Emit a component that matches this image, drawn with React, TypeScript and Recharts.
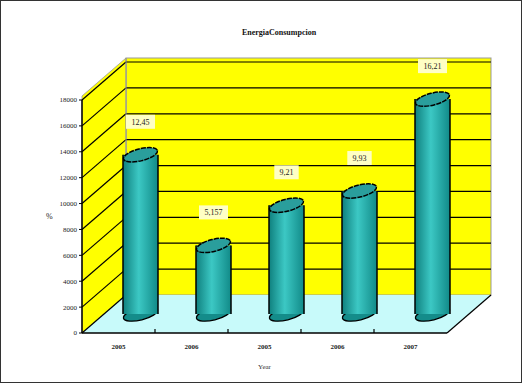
import React from 'react';
import { BarChart, Bar, XAxis, YAxis, ReferenceArea, LabelList, Customized } from 'recharts';

const categories = ['2005', '2006', '2005', '2006', '2007'];
const values = [12300, 5300, 8400, 9500, 16600];
const valueLabels = ['12,45', '5,157', '9,21', '9,93', '16,21'];
const yTicks = [0, 2000, 4000, 6000, 8000, 10000, 12000, 14000, 16000, 18000];
const title = 'EnergiaConsumpcion';

const data = categories.map((c, i) => ({ name: c, value: values[i], label: valueLabels[i] }));

const DX = 44;
const DY = -38;
const OX = DX / 2;
const OY = DY / 2;
const FONT = '"Liberation Serif", "DejaVu Serif", serif';

const Walls = (props: any) => {
  const { x, y, width, height } = props;
  const bottom = y + height;
  const right = x + width;
  const maxV = yTicks[yTicks.length - 1];
  const yOf = (v: number) => y + height * (1 - v / maxV);
  const n = categories.length;
  return (
    <g>
      {/* back wall */}
      <rect x={x + DX} y={y + DY - 4} width={width} height={height + 4} fill="#ffff00" stroke="#999" strokeWidth={1} />
      {/* side wall */}
      <polygon
        points={`${x},${bottom} ${x},${y - 4} ${x + DX},${y + DY - 4} ${x + DX},${bottom + DY}`}
        fill="#ffff00"
        stroke="#999"
        strokeWidth={0.8}
      />
      {/* floor */}
      <polygon
        points={`${x},${bottom} ${right},${bottom} ${right + DX},${bottom + DY} ${x + DX},${bottom + DY}`}
        fill="#c8fafa"
      />
      {yTicks.slice(1).map((t) => {
        const yy = yOf(t);
        return (
          <g key={t}>
            <line x1={x} y1={yy} x2={x + DX} y2={yy + DY} stroke="#000" strokeWidth={1.2} />
            <line x1={x + DX} y1={yy + DY} x2={right + DX} y2={yy + DY} stroke="#000" strokeWidth={1.2} />
          </g>
        );
      })}
      <line x1={x} y1={bottom} x2={x + DX} y2={bottom + DY} stroke="#000" strokeWidth={1.2} />
      <line x1={right} y1={bottom} x2={right + DX} y2={bottom + DY} stroke="#000" strokeWidth={1.2} />
      <line x1={x + DX} y1={y + DY - 4} x2={x + DX} y2={bottom + DY} stroke="#999" strokeWidth={1} />
      {Array.from({ length: n - 1 }).map((_, i) => {
        const xx = x + (width * (i + 1)) / n;
        return <line key={i} x1={xx} y1={bottom} x2={xx} y2={bottom - 4} stroke="#000" strokeWidth={1.2} />;
      })}
    </g>
  );
};

const Cylinder = (props: any) => {
  const { x, y, width, height } = props;
  if (height == null || width == null) return null;
  const bx = x + OX;
  const top = y + OY;
  const bot = y + height + OY;
  const cx = bx + width / 2;
  const rx = width / 2;
  const ry = 6;
  const rot = -14;
  return (
    <g>
      <ellipse cx={cx} cy={bot} rx={rx} ry={ry} transform={`rotate(${rot} ${cx} ${bot})`} fill="#148c8a" stroke="#000" strokeWidth={1.3} />
      <rect x={bx} y={top} width={width} height={bot - top} fill="url(#cylGrad)" stroke="none" />
      <line x1={bx} y1={top} x2={bx} y2={bot} stroke="#000" strokeWidth={1.5} />
      <line x1={bx + width} y1={top} x2={bx + width} y2={bot} stroke="#000" strokeWidth={1.5} />
      <ellipse cx={cx} cy={top} rx={rx} ry={ry} transform={`rotate(${rot} ${cx} ${top})`} fill="#2a9e9c" stroke="#000" strokeWidth={1.5} strokeDasharray="5 1" />
    </g>
  );
};

const ValueLabel = (props: any) => {
  const { x, y, width, index } = props;
  const cx = x + width / 2 + OX;
  const cy = y + OY - 33;
  const text = valueLabels[index];
  const w = text.length * 4.6 + 6;
  return (
    <g>
      <rect x={cx - w / 2} y={cy - 7} width={w} height={14} fill="#ffffc4" />
      <text x={cx} y={cy + 3} textAnchor="middle" fontFamily={FONT} fontSize={8} fill="#222">
        {text}
      </text>
    </g>
  );
};

const XTick = (props: any) => {
  const { x, y, payload } = props;
  return (
    <text x={x} y={y + 8} textAnchor="middle" fontFamily={FONT} fontSize={7} fontWeight="bold" fill="#222">
      {payload.value}
    </text>
  );
};

const Extras = () => (
  <g>
    <rect x={0.5} y={0.5} width={521} height={382} fill="none" stroke="#333" strokeWidth={1} />
    <text x={279} y={35} textAnchor="middle" fontFamily={FONT} fontSize={8} fontWeight="bold" fill="#111">
      {title}
    </text>
  </g>
);

export default function App() {
  return (
    <div style={{ position: 'absolute', left: 0, top: 0, background: '#fff' }}>
      <BarChart width={522} height={383} data={data} margin={{ top: 100, right: 75, bottom: 10, left: 42 }} barSize={35}>
        <defs>
          <linearGradient id="cylGrad" x1="0" y1="0" x2="1" y2="0">
            <stop offset="0" stopColor="#0f807e" />
            <stop offset="0.45" stopColor="#3cc8c4" />
            <stop offset="1" stopColor="#118a88" />
          </linearGradient>
        </defs>
        <Customized component={Extras} />
        <ReferenceArea y1={0} y2={18000} shape={<Walls />} ifOverflow="visible" zIndex={-50} />
        <XAxis
          dataKey="name"
          allowDuplicatedCategory={true}
          height={40}
          tick={<XTick />}
          tickLine={false}
          axisLine={{ stroke: '#000', strokeWidth: 1.5 }}
          label={{ value: 'Year', position: 'insideBottom', offset: 4, fontFamily: FONT, fontSize: 7, fill: '#333' }}
        />
        <YAxis
          width={40}
          domain={[0, 18000]}
          ticks={yTicks}
          interval={0}
          tickSize={3}
          tick={{ fontFamily: FONT, fontSize: 7, fill: '#222' }}
          axisLine={{ stroke: '#000', strokeWidth: 1.5 }}
          tickLine={{ stroke: '#000' }}
          label={{ value: '%', position: 'insideLeft', offset: 4, fontFamily: FONT, fontSize: 8, fill: '#222' }}
        />
        <Bar dataKey="value" shape={<Cylinder />} isAnimationActive={false}>
          <LabelList dataKey="label" content={<ValueLabel />} />
        </Bar>
      </BarChart>
    </div>
  );
}
